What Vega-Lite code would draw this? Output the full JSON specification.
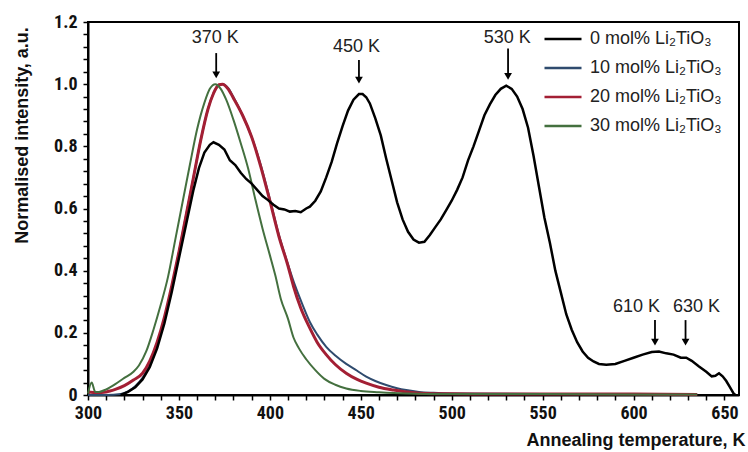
{
  "$schema": "https://vega.github.io/schema/vega-lite/v6.json",
  "width": 651,
  "height": 373,
  "autosize": {"type": "none"},
  "padding": {"left": 88, "top": 22, "right": 9, "bottom": 57},
  "background": "white",
  "config": {
    "view": {"stroke": "black", "strokeWidth": 2},
    "font": "Liberation Sans",
    "axis": {"grid": false, "domainColor": "black", "domainWidth": 2, "tickColor": "black", "tickWidth": 1.5, "labelColor": "#111", "titleColor": "#111"}
  },
  "datasets": {
    "curves": [
      {"s": "10 mol% Li₂TiO₃", "T": 300, "I": 0.0},
      {"s": "10 mol% Li₂TiO₃", "T": 310, "I": 0.0},
      {"s": "10 mol% Li₂TiO₃", "T": 318, "I": 0.003},
      {"s": "10 mol% Li₂TiO₃", "T": 322, "I": 0.012},
      {"s": "10 mol% Li₂TiO₃", "T": 326, "I": 0.028},
      {"s": "10 mol% Li₂TiO₃", "T": 330, "I": 0.055},
      {"s": "10 mol% Li₂TiO₃", "T": 334, "I": 0.1},
      {"s": "10 mol% Li₂TiO₃", "T": 338, "I": 0.16},
      {"s": "10 mol% Li₂TiO₃", "T": 342, "I": 0.245},
      {"s": "10 mol% Li₂TiO₃", "T": 346, "I": 0.345},
      {"s": "10 mol% Li₂TiO₃", "T": 350, "I": 0.46},
      {"s": "10 mol% Li₂TiO₃", "T": 354, "I": 0.58},
      {"s": "10 mol% Li₂TiO₃", "T": 358, "I": 0.7},
      {"s": "10 mol% Li₂TiO₃", "T": 362, "I": 0.82},
      {"s": "10 mol% Li₂TiO₃", "T": 366, "I": 0.92},
      {"s": "10 mol% Li₂TiO₃", "T": 369, "I": 0.97},
      {"s": "10 mol% Li₂TiO₃", "T": 372, "I": 0.997},
      {"s": "10 mol% Li₂TiO₃", "T": 374, "I": 1.0},
      {"s": "10 mol% Li₂TiO₃", "T": 377, "I": 0.988},
      {"s": "10 mol% Li₂TiO₃", "T": 380, "I": 0.958},
      {"s": "10 mol% Li₂TiO₃", "T": 385, "I": 0.9},
      {"s": "10 mol% Li₂TiO₃", "T": 390, "I": 0.83},
      {"s": "10 mol% Li₂TiO₃", "T": 395, "I": 0.74},
      {"s": "10 mol% Li₂TiO₃", "T": 400, "I": 0.63},
      {"s": "10 mol% Li₂TiO₃", "T": 405, "I": 0.515},
      {"s": "10 mol% Li₂TiO₃", "T": 410, "I": 0.42},
      {"s": "10 mol% Li₂TiO₃", "T": 414, "I": 0.35},
      {"s": "10 mol% Li₂TiO₃", "T": 418, "I": 0.29},
      {"s": "10 mol% Li₂TiO₃", "T": 422, "I": 0.235},
      {"s": "10 mol% Li₂TiO₃", "T": 426, "I": 0.195},
      {"s": "10 mol% Li₂TiO₃", "T": 431, "I": 0.155},
      {"s": "10 mol% Li₂TiO₃", "T": 436, "I": 0.127},
      {"s": "10 mol% Li₂TiO₃", "T": 442, "I": 0.1},
      {"s": "10 mol% Li₂TiO₃", "T": 448, "I": 0.078},
      {"s": "10 mol% Li₂TiO₃", "T": 453, "I": 0.059},
      {"s": "10 mol% Li₂TiO₃", "T": 458, "I": 0.045},
      {"s": "10 mol% Li₂TiO₃", "T": 464, "I": 0.032},
      {"s": "10 mol% Li₂TiO₃", "T": 470, "I": 0.022},
      {"s": "10 mol% Li₂TiO₃", "T": 475, "I": 0.016},
      {"s": "10 mol% Li₂TiO₃", "T": 482, "I": 0.01},
      {"s": "10 mol% Li₂TiO₃", "T": 490, "I": 0.007},
      {"s": "10 mol% Li₂TiO₃", "T": 500, "I": 0.005},
      {"s": "10 mol% Li₂TiO₃", "T": 550, "I": 0.003},
      {"s": "10 mol% Li₂TiO₃", "T": 600, "I": 0.003},
      {"s": "10 mol% Li₂TiO₃", "T": 635, "I": 0.002},

      {"s": "20 mol% Li₂TiO₃", "T": 300, "I": 0.01},
      {"s": "20 mol% Li₂TiO₃", "T": 305, "I": 0.008},
      {"s": "20 mol% Li₂TiO₃", "T": 310, "I": 0.01},
      {"s": "20 mol% Li₂TiO₃", "T": 315, "I": 0.018},
      {"s": "20 mol% Li₂TiO₃", "T": 320, "I": 0.03},
      {"s": "20 mol% Li₂TiO₃", "T": 325, "I": 0.048},
      {"s": "20 mol% Li₂TiO₃", "T": 330, "I": 0.07},
      {"s": "20 mol% Li₂TiO₃", "T": 334, "I": 0.11},
      {"s": "20 mol% Li₂TiO₃", "T": 338, "I": 0.17},
      {"s": "20 mol% Li₂TiO₃", "T": 342, "I": 0.25},
      {"s": "20 mol% Li₂TiO₃", "T": 346, "I": 0.35},
      {"s": "20 mol% Li₂TiO₃", "T": 350, "I": 0.46},
      {"s": "20 mol% Li₂TiO₃", "T": 354, "I": 0.58},
      {"s": "20 mol% Li₂TiO₃", "T": 358, "I": 0.7},
      {"s": "20 mol% Li₂TiO₃", "T": 362, "I": 0.82},
      {"s": "20 mol% Li₂TiO₃", "T": 366, "I": 0.92},
      {"s": "20 mol% Li₂TiO₃", "T": 369, "I": 0.97},
      {"s": "20 mol% Li₂TiO₃", "T": 372, "I": 0.998},
      {"s": "20 mol% Li₂TiO₃", "T": 374, "I": 1.0},
      {"s": "20 mol% Li₂TiO₃", "T": 377, "I": 0.985},
      {"s": "20 mol% Li₂TiO₃", "T": 380, "I": 0.955},
      {"s": "20 mol% Li₂TiO₃", "T": 385, "I": 0.9},
      {"s": "20 mol% Li₂TiO₃", "T": 390, "I": 0.83},
      {"s": "20 mol% Li₂TiO₃", "T": 395, "I": 0.735},
      {"s": "20 mol% Li₂TiO₃", "T": 400, "I": 0.625},
      {"s": "20 mol% Li₂TiO₃", "T": 405, "I": 0.51},
      {"s": "20 mol% Li₂TiO₃", "T": 410, "I": 0.415},
      {"s": "20 mol% Li₂TiO₃", "T": 413, "I": 0.35},
      {"s": "20 mol% Li₂TiO₃", "T": 417, "I": 0.28},
      {"s": "20 mol% Li₂TiO₃", "T": 422, "I": 0.215},
      {"s": "20 mol% Li₂TiO₃", "T": 426, "I": 0.17},
      {"s": "20 mol% Li₂TiO₃", "T": 431, "I": 0.13},
      {"s": "20 mol% Li₂TiO₃", "T": 436, "I": 0.098},
      {"s": "20 mol% Li₂TiO₃", "T": 442, "I": 0.07},
      {"s": "20 mol% Li₂TiO₃", "T": 448, "I": 0.05},
      {"s": "20 mol% Li₂TiO₃", "T": 453, "I": 0.038},
      {"s": "20 mol% Li₂TiO₃", "T": 460, "I": 0.025},
      {"s": "20 mol% Li₂TiO₃", "T": 468, "I": 0.016},
      {"s": "20 mol% Li₂TiO₃", "T": 475, "I": 0.01},
      {"s": "20 mol% Li₂TiO₃", "T": 482, "I": 0.006},
      {"s": "20 mol% Li₂TiO₃", "T": 500, "I": 0.004},
      {"s": "20 mol% Li₂TiO₃", "T": 550, "I": 0.003},
      {"s": "20 mol% Li₂TiO₃", "T": 600, "I": 0.003},
      {"s": "20 mol% Li₂TiO₃", "T": 635, "I": 0.002},

      {"s": "30 mol% Li₂TiO₃", "T": 300, "I": 0.005},
      {"s": "30 mol% Li₂TiO₃", "T": 302, "I": 0.04},
      {"s": "30 mol% Li₂TiO₃", "T": 304, "I": 0.01},
      {"s": "30 mol% Li₂TiO₃", "T": 306, "I": 0.01},
      {"s": "30 mol% Li₂TiO₃", "T": 310, "I": 0.018},
      {"s": "30 mol% Li₂TiO₃", "T": 315, "I": 0.035},
      {"s": "30 mol% Li₂TiO₃", "T": 320, "I": 0.055},
      {"s": "30 mol% Li₂TiO₃", "T": 325, "I": 0.075},
      {"s": "30 mol% Li₂TiO₃", "T": 328, "I": 0.095},
      {"s": "30 mol% Li₂TiO₃", "T": 332, "I": 0.14},
      {"s": "30 mol% Li₂TiO₃", "T": 336, "I": 0.21},
      {"s": "30 mol% Li₂TiO₃", "T": 340, "I": 0.29},
      {"s": "30 mol% Li₂TiO₃", "T": 344, "I": 0.38},
      {"s": "30 mol% Li₂TiO₃", "T": 348, "I": 0.5},
      {"s": "30 mol% Li₂TiO₃", "T": 352, "I": 0.62},
      {"s": "30 mol% Li₂TiO₃", "T": 356, "I": 0.74},
      {"s": "30 mol% Li₂TiO₃", "T": 360, "I": 0.855},
      {"s": "30 mol% Li₂TiO₃", "T": 364, "I": 0.94},
      {"s": "30 mol% Li₂TiO₃", "T": 367, "I": 0.985},
      {"s": "30 mol% Li₂TiO₃", "T": 370, "I": 1.0},
      {"s": "30 mol% Li₂TiO₃", "T": 373, "I": 0.985},
      {"s": "30 mol% Li₂TiO₃", "T": 376, "I": 0.95},
      {"s": "30 mol% Li₂TiO₃", "T": 380, "I": 0.885},
      {"s": "30 mol% Li₂TiO₃", "T": 384, "I": 0.81},
      {"s": "30 mol% Li₂TiO₃", "T": 388, "I": 0.73},
      {"s": "30 mol% Li₂TiO₃", "T": 392, "I": 0.63},
      {"s": "30 mol% Li₂TiO₃", "T": 396, "I": 0.535},
      {"s": "30 mol% Li₂TiO₃", "T": 400, "I": 0.45},
      {"s": "30 mol% Li₂TiO₃", "T": 403, "I": 0.385},
      {"s": "30 mol% Li₂TiO₃", "T": 406, "I": 0.31},
      {"s": "30 mol% Li₂TiO₃", "T": 410, "I": 0.245},
      {"s": "30 mol% Li₂TiO₃", "T": 413, "I": 0.185},
      {"s": "30 mol% Li₂TiO₃", "T": 416, "I": 0.15},
      {"s": "30 mol% Li₂TiO₃", "T": 420, "I": 0.115},
      {"s": "30 mol% Li₂TiO₃", "T": 425, "I": 0.08},
      {"s": "30 mol% Li₂TiO₃", "T": 430, "I": 0.052},
      {"s": "30 mol% Li₂TiO₃", "T": 436, "I": 0.033},
      {"s": "30 mol% Li₂TiO₃", "T": 442, "I": 0.021},
      {"s": "30 mol% Li₂TiO₃", "T": 450, "I": 0.013},
      {"s": "30 mol% Li₂TiO₃", "T": 460, "I": 0.009},
      {"s": "30 mol% Li₂TiO₃", "T": 475, "I": 0.005},
      {"s": "30 mol% Li₂TiO₃", "T": 500, "I": 0.003},
      {"s": "30 mol% Li₂TiO₃", "T": 550, "I": 0.003},
      {"s": "30 mol% Li₂TiO₃", "T": 600, "I": 0.002},
      {"s": "30 mol% Li₂TiO₃", "T": 635, "I": 0.002},

      {"s": "0 mol% Li₂TiO₃", "T": 318, "I": 0.0},
      {"s": "0 mol% Li₂TiO₃", "T": 322, "I": 0.01},
      {"s": "0 mol% Li₂TiO₃", "T": 326, "I": 0.025},
      {"s": "0 mol% Li₂TiO₃", "T": 330, "I": 0.05},
      {"s": "0 mol% Li₂TiO₃", "T": 334, "I": 0.09},
      {"s": "0 mol% Li₂TiO₃", "T": 338, "I": 0.15},
      {"s": "0 mol% Li₂TiO₃", "T": 342, "I": 0.23},
      {"s": "0 mol% Li₂TiO₃", "T": 346, "I": 0.33},
      {"s": "0 mol% Li₂TiO₃", "T": 350, "I": 0.44},
      {"s": "0 mol% Li₂TiO₃", "T": 354, "I": 0.55},
      {"s": "0 mol% Li₂TiO₃", "T": 358, "I": 0.66},
      {"s": "0 mol% Li₂TiO₃", "T": 361, "I": 0.73},
      {"s": "0 mol% Li₂TiO₃", "T": 364, "I": 0.78},
      {"s": "0 mol% Li₂TiO₃", "T": 367, "I": 0.805},
      {"s": "0 mol% Li₂TiO₃", "T": 369, "I": 0.813},
      {"s": "0 mol% Li₂TiO₃", "T": 372, "I": 0.805},
      {"s": "0 mol% Li₂TiO₃", "T": 375, "I": 0.79},
      {"s": "0 mol% Li₂TiO₃", "T": 378, "I": 0.755},
      {"s": "0 mol% Li₂TiO₃", "T": 381, "I": 0.74},
      {"s": "0 mol% Li₂TiO₃", "T": 384, "I": 0.715},
      {"s": "0 mol% Li₂TiO₃", "T": 387, "I": 0.695},
      {"s": "0 mol% Li₂TiO₃", "T": 390, "I": 0.68},
      {"s": "0 mol% Li₂TiO₃", "T": 393, "I": 0.66},
      {"s": "0 mol% Li₂TiO₃", "T": 396, "I": 0.64},
      {"s": "0 mol% Li₂TiO₃", "T": 399, "I": 0.627},
      {"s": "0 mol% Li₂TiO₃", "T": 402, "I": 0.612},
      {"s": "0 mol% Li₂TiO₃", "T": 405, "I": 0.6},
      {"s": "0 mol% Li₂TiO₃", "T": 408, "I": 0.597},
      {"s": "0 mol% Li₂TiO₃", "T": 411, "I": 0.59},
      {"s": "0 mol% Li₂TiO₃", "T": 414, "I": 0.592},
      {"s": "0 mol% Li₂TiO₃", "T": 417, "I": 0.588},
      {"s": "0 mol% Li₂TiO₃", "T": 420, "I": 0.6},
      {"s": "0 mol% Li₂TiO₃", "T": 422, "I": 0.606},
      {"s": "0 mol% Li₂TiO₃", "T": 425, "I": 0.625},
      {"s": "0 mol% Li₂TiO₃", "T": 428, "I": 0.655},
      {"s": "0 mol% Li₂TiO₃", "T": 431, "I": 0.7},
      {"s": "0 mol% Li₂TiO₃", "T": 434, "I": 0.75},
      {"s": "0 mol% Li₂TiO₃", "T": 437, "I": 0.81},
      {"s": "0 mol% Li₂TiO₃", "T": 440, "I": 0.865},
      {"s": "0 mol% Li₂TiO₃", "T": 443, "I": 0.915},
      {"s": "0 mol% Li₂TiO₃", "T": 446, "I": 0.95},
      {"s": "0 mol% Li₂TiO₃", "T": 449, "I": 0.968},
      {"s": "0 mol% Li₂TiO₃", "T": 451, "I": 0.968},
      {"s": "0 mol% Li₂TiO₃", "T": 453, "I": 0.958},
      {"s": "0 mol% Li₂TiO₃", "T": 455, "I": 0.938},
      {"s": "0 mol% Li₂TiO₃", "T": 458, "I": 0.89},
      {"s": "0 mol% Li₂TiO₃", "T": 461, "I": 0.835},
      {"s": "0 mol% Li₂TiO₃", "T": 464, "I": 0.76},
      {"s": "0 mol% Li₂TiO₃", "T": 467, "I": 0.69},
      {"s": "0 mol% Li₂TiO₃", "T": 470, "I": 0.62},
      {"s": "0 mol% Li₂TiO₃", "T": 473, "I": 0.565},
      {"s": "0 mol% Li₂TiO₃", "T": 476, "I": 0.525},
      {"s": "0 mol% Li₂TiO₃", "T": 479, "I": 0.5},
      {"s": "0 mol% Li₂TiO₃", "T": 482, "I": 0.49},
      {"s": "0 mol% Li₂TiO₃", "T": 485, "I": 0.493},
      {"s": "0 mol% Li₂TiO₃", "T": 488, "I": 0.515},
      {"s": "0 mol% Li₂TiO₃", "T": 491, "I": 0.54},
      {"s": "0 mol% Li₂TiO₃", "T": 494, "I": 0.565},
      {"s": "0 mol% Li₂TiO₃", "T": 497, "I": 0.595},
      {"s": "0 mol% Li₂TiO₃", "T": 500, "I": 0.625},
      {"s": "0 mol% Li₂TiO₃", "T": 503, "I": 0.66},
      {"s": "0 mol% Li₂TiO₃", "T": 506, "I": 0.7},
      {"s": "0 mol% Li₂TiO₃", "T": 509, "I": 0.755},
      {"s": "0 mol% Li₂TiO₃", "T": 512, "I": 0.8},
      {"s": "0 mol% Li₂TiO₃", "T": 515, "I": 0.85},
      {"s": "0 mol% Li₂TiO₃", "T": 518, "I": 0.9},
      {"s": "0 mol% Li₂TiO₃", "T": 521, "I": 0.935},
      {"s": "0 mol% Li₂TiO₃", "T": 524, "I": 0.965},
      {"s": "0 mol% Li₂TiO₃", "T": 527, "I": 0.985},
      {"s": "0 mol% Li₂TiO₃", "T": 530, "I": 0.995},
      {"s": "0 mol% Li₂TiO₃", "T": 533, "I": 0.985},
      {"s": "0 mol% Li₂TiO₃", "T": 536, "I": 0.96},
      {"s": "0 mol% Li₂TiO₃", "T": 539, "I": 0.92},
      {"s": "0 mol% Li₂TiO₃", "T": 542, "I": 0.86},
      {"s": "0 mol% Li₂TiO₃", "T": 545, "I": 0.77},
      {"s": "0 mol% Li₂TiO₃", "T": 548, "I": 0.67},
      {"s": "0 mol% Li₂TiO₃", "T": 551, "I": 0.57},
      {"s": "0 mol% Li₂TiO₃", "T": 554, "I": 0.49},
      {"s": "0 mol% Li₂TiO₃", "T": 557, "I": 0.4},
      {"s": "0 mol% Li₂TiO₃", "T": 560, "I": 0.33},
      {"s": "0 mol% Li₂TiO₃", "T": 563, "I": 0.26},
      {"s": "0 mol% Li₂TiO₃", "T": 566, "I": 0.21},
      {"s": "0 mol% Li₂TiO₃", "T": 569, "I": 0.17},
      {"s": "0 mol% Li₂TiO₃", "T": 572, "I": 0.14},
      {"s": "0 mol% Li₂TiO₃", "T": 575, "I": 0.12},
      {"s": "0 mol% Li₂TiO₃", "T": 578, "I": 0.108},
      {"s": "0 mol% Li₂TiO₃", "T": 581, "I": 0.1},
      {"s": "0 mol% Li₂TiO₃", "T": 585, "I": 0.097},
      {"s": "0 mol% Li₂TiO₃", "T": 590, "I": 0.1},
      {"s": "0 mol% Li₂TiO₃", "T": 595, "I": 0.11},
      {"s": "0 mol% Li₂TiO₃", "T": 600, "I": 0.12},
      {"s": "0 mol% Li₂TiO₃", "T": 605, "I": 0.13},
      {"s": "0 mol% Li₂TiO₃", "T": 610, "I": 0.138},
      {"s": "0 mol% Li₂TiO₃", "T": 614, "I": 0.14},
      {"s": "0 mol% Li₂TiO₃", "T": 618, "I": 0.134},
      {"s": "0 mol% Li₂TiO₃", "T": 622, "I": 0.13},
      {"s": "0 mol% Li₂TiO₃", "T": 626, "I": 0.12},
      {"s": "0 mol% Li₂TiO₃", "T": 629, "I": 0.12},
      {"s": "0 mol% Li₂TiO₃", "T": 632, "I": 0.11},
      {"s": "0 mol% Li₂TiO₃", "T": 636, "I": 0.092},
      {"s": "0 mol% Li₂TiO₃", "T": 640, "I": 0.075},
      {"s": "0 mol% Li₂TiO₃", "T": 643, "I": 0.06},
      {"s": "0 mol% Li₂TiO₃", "T": 645, "I": 0.062},
      {"s": "0 mol% Li₂TiO₃", "T": 647, "I": 0.07},
      {"s": "0 mol% Li₂TiO₃", "T": 649, "I": 0.06},
      {"s": "0 mol% Li₂TiO₃", "T": 651, "I": 0.045},
      {"s": "0 mol% Li₂TiO₃", "T": 653, "I": 0.025},
      {"s": "0 mol% Li₂TiO₃", "T": 655, "I": 0.005},
      {"s": "0 mol% Li₂TiO₃", "T": 656, "I": 0.0}
    ],
    "peaks": [
      {"label": "370 K", "tx": 370, "ty": 1.148, "ax": 370.5, "top": 1.1, "tip": 1.03},
      {"label": "450 K", "tx": 447.6, "ty": 1.12, "ax": 449, "top": 1.078, "tip": 1.013},
      {"label": "530 K", "tx": 530.5, "ty": 1.15, "ax": 531, "top": 1.115, "tip": 1.025},
      {"label": "610 K", "tx": 601.6, "ty": 0.283, "ax": 611.8, "top": 0.241, "tip": 0.17},
      {"label": "630 K", "tx": 634.6, "ty": 0.283, "ax": 628.6, "top": 0.241, "tip": 0.17}
    ]
  },
  "encoding": {
    "x": {
      "field": "T", "type": "quantitative",
      "scale": {"domain": [300, 658], "nice": false, "zero": false},
      "axis": {
        "values": [300,310,320,330,340,350,360,370,380,390,400,410,420,430,440,450,460,470,480,490,500,510,520,530,540,550,560,570,580,590,600,610,620,630,640,650],
        "labelExpr": "datum.value % 50 === 0 ? datum.label : ''",
        "labelOverlap": false, "labelBound": false, "labelFlush": false,
        "tickSize": 5, "labelPadding": 4,
        "labelFont": "Liberation Sans Narrow, Roboto Condensed, Liberation Sans",
        "labelFontSize": 18, "labelFontWeight": "bold",
        "title": "Annealing temperature, K",
        "titleFontSize": 18, "titleFontWeight": "bold",
        "titleAnchor": "end", "titleAlign": "right", "titleBaseline": "alphabetic",
        "titleX": 657, "titleY": 50
      }
    },
    "y": {
      "field": "I", "type": "quantitative",
      "scale": {"domain": [0, 1.2], "nice": false},
      "axis": {
        "values": [0,0.04,0.08,0.12,0.16,0.2,0.24,0.28,0.32,0.36,0.4,0.44,0.48,0.52,0.56,0.6,0.64,0.68,0.72,0.76,0.8,0.84,0.88,0.92,0.96,1.0,1.04,1.08,1.12,1.16,1.2],
        "labelExpr": "round(datum.value*100) % 20 === 0 ? (datum.value === 0 ? '0' : format(datum.value, '.1f')) : ''",
        "labelOverlap": false, "labelBound": false, "labelFlush": false,
        "tickSize": 5, "labelPadding": 6,
        "labelFont": "Liberation Sans Narrow, Roboto Condensed, Liberation Sans",
        "labelFontSize": 18, "labelFontWeight": "bold",
        "title": "Normalised intensity, a.u.",
        "titleFontSize": 18, "titleFontWeight": "bold",
        "titleAngle": -90, "titleAlign": "center", "titleBaseline": "middle",
        "titleX": -66, "titleY": 113
      }
    }
  },
  "layer": [
    {
      "data": {"name": "curves"},
      "transform": [{"filter": "datum.s === '10 mol% Li₂TiO₃'"}],
      "mark": {"type": "line", "strokeWidth": 2, "interpolate": "monotone"},
      "encoding": {
        "color": {"field": "s", "type": "nominal",
          "scale": {"domain": ["0 mol% Li₂TiO₃", "10 mol% Li₂TiO₃", "20 mol% Li₂TiO₃", "30 mol% Li₂TiO₃"], "range": ["#000000", "#2f4b6e", "#a31f34", "#44703f"]},
          "legend": {
            "title": null, "orient": "none", "legendX": 455, "legendY": -3,
            "symbolType": "stroke", "symbolSize": 1369, "symbolStrokeWidth": 2.5,
            "labelFontSize": 18, "labelColor": "#222", "labelOffset": 7, "rowPadding": 0,
            "labelLimit": 300
          }
        }
      }
    },
    {
      "data": {"name": "curves"},
      "transform": [{"filter": "datum.s === '20 mol% Li₂TiO₃'"}],
      "mark": {"type": "line", "strokeWidth": 3, "interpolate": "monotone"},
      "encoding": {"color": {"field": "s", "type": "nominal"}}
    },
    {
      "data": {"name": "curves"},
      "transform": [{"filter": "datum.s === '30 mol% Li₂TiO₃'"}],
      "mark": {"type": "line", "strokeWidth": 2, "interpolate": "monotone"},
      "encoding": {"color": {"field": "s", "type": "nominal"}}
    },
    {
      "data": {"name": "curves"},
      "transform": [{"filter": "datum.s === '0 mol% Li₂TiO₃'"}],
      "mark": {"type": "line", "strokeWidth": 2.5, "interpolate": "linear"},
      "encoding": {"color": {"field": "s", "type": "nominal"}}
    },
    {
      "data": {"name": "peaks"},
      "mark": {"type": "text", "fontSize": 18, "color": "#222", "baseline": "middle", "align": "center"},
      "encoding": {"x": {"field": "tx", "type": "quantitative"}, "y": {"field": "ty", "type": "quantitative"}, "text": {"field": "label"}}
    },
    {
      "data": {"name": "peaks"},
      "mark": {"type": "rule", "strokeWidth": 1.8, "color": "black"},
      "encoding": {"x": {"field": "ax", "type": "quantitative"}, "y": {"field": "top", "type": "quantitative"}, "y2": {"field": "tip"}}
    },
    {
      "data": {"name": "peaks"},
      "mark": {"type": "point", "shape": "triangle-down", "filled": true, "color": "black", "size": 60, "opacity": 1},
      "encoding": {"x": {"field": "ax", "type": "quantitative"}, "y": {"field": "tip", "type": "quantitative"}}
    }
  ]
}
